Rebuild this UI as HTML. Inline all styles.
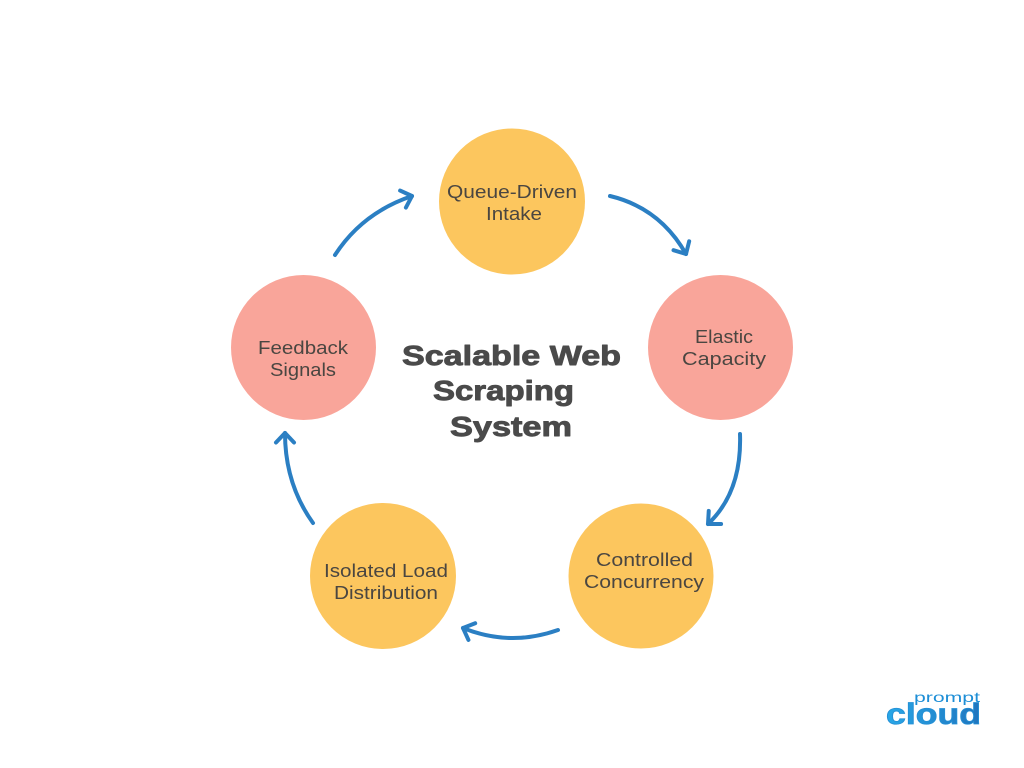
<!DOCTYPE html>
<html><head><meta charset="utf-8"><style>
html,body{margin:0;padding:0;background:#fff;}
svg{display:block;}
</style></head><body>
<svg width="1024" height="768" viewBox="0 0 1024 768" xmlns="http://www.w3.org/2000/svg">
<defs>
<marker id="ah" markerUnits="userSpaceOnUse" markerWidth="30" markerHeight="30" refX="15" refY="15" orient="auto" viewBox="0 0 30 30">
<path d="M5.5 6 L15 15 L5.5 24" fill="none" stroke="#2b7fc3" stroke-width="4" stroke-linecap="round" stroke-linejoin="round"/>
</marker>
<linearGradient id="lg" x1="0" y1="0" x2="1" y2="0">
<stop offset="0" stop-color="#29a8e8"/><stop offset="1" stop-color="#1f74bd"/>
</linearGradient>
</defs>
<rect width="1024" height="768" fill="#fff"/>

<!-- circles -->
<circle cx="512" cy="201.5" r="73" fill="#fcc65e"/>
<circle cx="720.5" cy="347.5" r="72.5" fill="#f9a59a"/>
<circle cx="641" cy="576" r="72.5" fill="#fcc65e"/>
<circle cx="383" cy="576" r="73" fill="#fcc65e"/>
<circle cx="303.5" cy="347.5" r="72.5" fill="#f9a59a"/>

<!-- arrows -->
<g fill="none" stroke="#2b7fc3" stroke-width="4" stroke-linecap="round">
<path d="M335 255 Q362 213 412 196" marker-end="url(#ah)"/>
<path d="M610 196 Q660 208 686 254" marker-end="url(#ah)"/>
<path d="M740 434 Q742 492 708 524" marker-end="url(#ah)"/>
<path d="M558 630 Q510 647 463 628" marker-end="url(#ah)"/>
<path d="M313 523 Q285 484 285 433" marker-end="url(#ah)"/>
</g>

<!-- circle labels -->
<g font-family="Liberation Sans, sans-serif" font-size="18" fill="#4a4641" text-anchor="middle">
<text x="512" y="198" textLength="130" lengthAdjust="spacingAndGlyphs">Queue-Driven</text>
<text x="514" y="220" textLength="56" lengthAdjust="spacingAndGlyphs">Intake</text>
<text x="724" y="343" textLength="58" lengthAdjust="spacingAndGlyphs">Elastic</text>
<text x="724" y="365" textLength="84" lengthAdjust="spacingAndGlyphs">Capacity</text>
<text x="303" y="354" textLength="90" lengthAdjust="spacingAndGlyphs">Feedback</text>
<text x="303" y="376" textLength="66" lengthAdjust="spacingAndGlyphs">Signals</text>
<text x="386" y="577" textLength="124" lengthAdjust="spacingAndGlyphs">Isolated Load</text>
<text x="386" y="599" textLength="104" lengthAdjust="spacingAndGlyphs">Distribution</text>
<text x="644.5" y="566" textLength="97" lengthAdjust="spacingAndGlyphs">Controlled</text>
<text x="644" y="588" textLength="120" lengthAdjust="spacingAndGlyphs">Concurrency</text>
</g>

<!-- title -->
<g font-family="Liberation Sans, sans-serif" font-weight="bold" font-size="28" fill="#4a4a4a" stroke="#4a4a4a" stroke-width="0.9" stroke-linejoin="round" text-anchor="middle">
<text x="511.5" y="365" textLength="219" lengthAdjust="spacingAndGlyphs">Scalable Web</text>
<text x="503.5" y="400" textLength="141" lengthAdjust="spacingAndGlyphs">Scraping</text>
<text x="511" y="436" textLength="122" lengthAdjust="spacingAndGlyphs">System</text>
</g>

<!-- logo -->
<text x="914" y="702" font-family="Liberation Sans, sans-serif" font-size="14" fill="#1d8ed6" textLength="66" lengthAdjust="spacingAndGlyphs">prompt</text>
<text x="886" y="724" font-family="Liberation Sans, sans-serif" font-weight="bold" font-size="30" fill="url(#lg)" stroke="#2590d6" stroke-width="0.8" textLength="95" lengthAdjust="spacingAndGlyphs">cloud</text>
</svg>
</body></html>
